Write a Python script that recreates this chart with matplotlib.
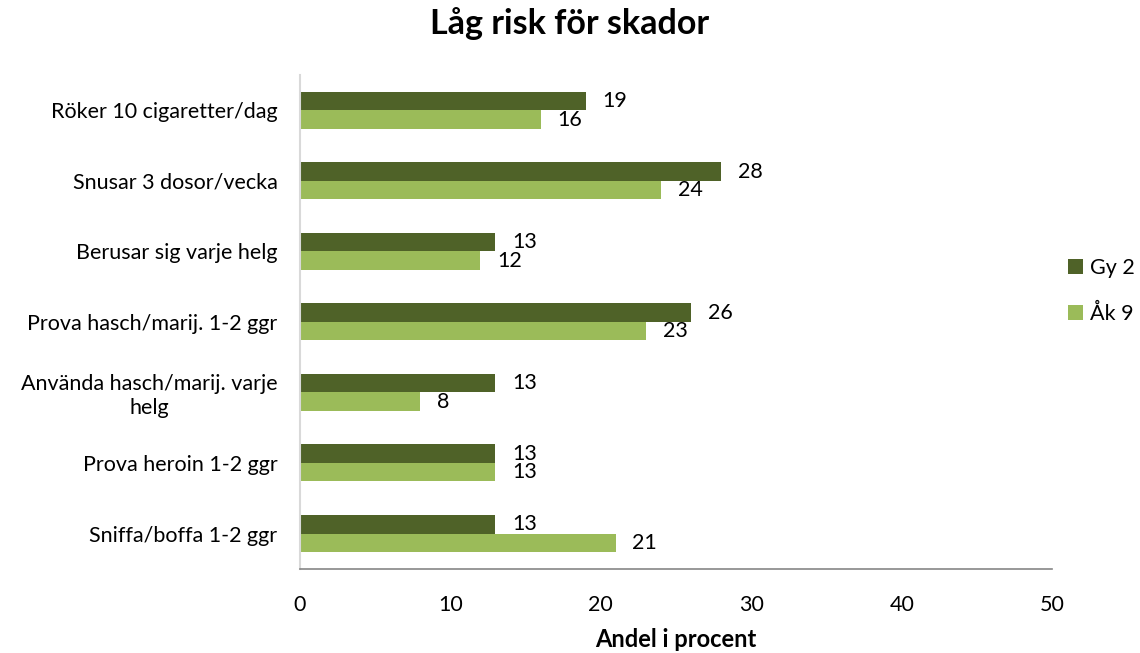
import numpy as np
import matplotlib
matplotlib.use('Agg')
import matplotlib.pyplot as plt

plt.rcParams['font.family'] = ['Lato', 'DejaVu Sans']

# Data
categories = [
    'Röker 10 cigaretter/dag',
    'Snusar 3 dosor/vecka',
    'Berusar sig varje helg',
    'Prova hasch/marij. 1-2 ggr',
    'Använda hasch/marij. varje\nhelg',
    'Prova heroin 1-2 ggr',
    'Sniffa/boffa 1-2 ggr',
]
gy2 = [19, 28, 13, 26, 13, 13, 13]
ak9 = [16, 24, 12, 23, 8, 13, 21]
series_names = ['Gy 2', 'Åk 9']
x_ticks = [0, 10, 20, 30, 40, 50]

DARK = '#4F6228'
LIGHT = '#9BBB59'
FS = 15.5

fig = plt.figure(figsize=(11.4, 6.53), dpi=100)
ax = fig.add_axes([0.263, 0.129, 0.66, 0.756])

y = np.arange(len(categories))
h = 0.262
b1 = ax.barh(y - h / 2, gy2, h, color=DARK, label=series_names[0])
b2 = ax.barh(y + h / 2, ak9, h, color=LIGHT, label=series_names[1])

ax.set_xlim(0, 50)
ax.set_ylim(len(categories) - 0.5, -0.5)
ax.set_yticks(y)
ax.set_yticklabels(categories, fontsize=FS, multialignment='center')
ax.set_xticks(x_ticks)
ax.tick_params(axis='x', length=0, pad=19, labelsize=FS)
ax.tick_params(axis='y', length=0, pad=16)

for s in ['top', 'right']:
    ax.spines[s].set_visible(False)
ax.spines['left'].set_color('#D9D9D9')
ax.spines['left'].set_linewidth(1.5)
ax.spines['bottom'].set_color('#868686')
ax.spines['bottom'].set_linewidth(1.2)

# value labels at the bar ends
for i, (g, a) in enumerate(zip(gy2, ak9)):
    ax.annotate(f'{g}', xy=(g, y[i] - h / 2), xytext=(12, 0),
                textcoords='offset points', ha='left', va='center', fontsize=FS)
    ax.annotate(f'{a}', xy=(a, y[i] + h / 2), xytext=(12, 0),
                textcoords='offset points', ha='left', va='center', fontsize=FS)

ax.set_xlabel('Andel i procent', fontsize=17, fontweight='bold', labelpad=9)
fig.suptitle('Låg risk för skador', fontsize=24.5, fontweight='bold', y=0.99)

leg = fig.legend(handles=[b1, b2], loc='center left', bbox_to_anchor=(1068 / 1140, 0.555),
                 frameon=False, fontsize=FS, handlelength=0.7, handleheight=0.7,
                 handletextpad=0.3, labelspacing=1.2, borderpad=0, borderaxespad=0)

fig.savefig('out.png', dpi=100)
